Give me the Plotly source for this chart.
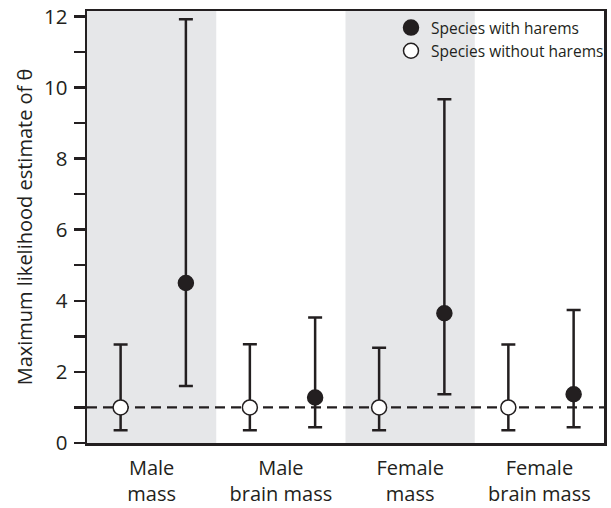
import plotly.graph_objects as go

categories = ["Male<br>mass", "Male<br>brain mass", "Female<br>mass", "Female<br>brain mass"]
with_est = [4.5, 1.28, 3.65, 1.37]
with_lo = [1.6, 0.44, 1.37, 0.44]
with_hi = [11.92, 3.53, 9.67, 3.74]
without_est = [1.0, 1.0, 1.0, 1.0]
without_lo = [0.36, 0.36, 0.36, 0.36]
without_hi = [2.77, 2.78, 2.68, 2.77]
shaded_groups = [0, 2]
null_theta = 1.0

ink = "#231f20"
band = "#e6e7e9"
font_family = "Open Sans, Noto Sans, sans-serif"

idx = list(range(len(categories)))
x_without = [i - 0.24 for i in idx]
x_with = [i + 0.265 for i in idx]

fig = go.Figure()

fig.add_trace(go.Scatter(
    x=x_with, y=with_est, mode="markers", name="Species with harems",
    marker=dict(symbol="circle", size=15, color=ink, line=dict(color=ink, width=1.5)),
    error_y=dict(type="data", symmetric=False,
                 array=[h - e for h, e in zip(with_hi, with_est)],
                 arrayminus=[e - l for e, l in zip(with_est, with_lo)],
                 color=ink, thickness=2.5, width=7),
    cliponaxis=False, hoverinfo="skip",
))
fig.add_trace(go.Scatter(
    x=x_without, y=without_est, mode="markers", name="Species without harems",
    marker=dict(symbol="circle", size=15, color="white", line=dict(color=ink, width=1.5)),
    error_y=dict(type="data", symmetric=False,
                 array=[h - e for h, e in zip(without_hi, without_est)],
                 arrayminus=[e - l for e, l in zip(without_est, without_lo)],
                 color=ink, thickness=2.5, width=7),
    cliponaxis=False, hoverinfo="skip",
))

shapes = []
for g in shaded_groups:
    shapes.append(dict(type="rect", xref="x", yref="paper", x0=g - 0.5, x1=g + 0.5,
                       y0=0, y1=1, fillcolor=band, line=dict(width=0), layer="below"))
shapes.append(dict(type="line", xref="paper", yref="y", x0=0, x1=1, y0=null_theta, y1=null_theta,
                   line=dict(color=ink, width=2.2, dash="10px,6px"), layer="below"))

fig.update_layout(
    width=611, height=508,
    margin=dict(l=87, r=2, t=11, b=65),
    paper_bgcolor="white", plot_bgcolor="white",
    font=dict(family=font_family, color=ink, size=18),
    shapes=shapes,
    hovermode=False,
    showlegend=True,
    legend=dict(x=0.588, y=1.0, xanchor="left", yanchor="top",
                bgcolor="rgba(0,0,0,0)", font=dict(size=15.5, family=font_family, color=ink),
                itemsizing="trace", tracegroupgap=0),
    xaxis=dict(range=[-0.5, 3.5], tickmode="array", tickvals=idx, ticktext=categories,
               showgrid=False, zeroline=False, showline=True, linecolor=ink, linewidth=2.5,
               mirror=True, ticks="", tickfont=dict(size=20), ticklabelstandoff=5,
               ticklabeloverflow="allow"),
    yaxis=dict(range=[0, 12.15], tickmode="array", tickvals=[0, 2, 4, 6, 8, 10, 12],
               showgrid=False, zeroline=False, showline=True, linecolor=ink, linewidth=2.5,
               mirror=True, ticks="outside", ticklen=11, tickwidth=2.5, tickcolor=ink,
               tickfont=dict(size=20.5), ticklabelstandoff=2, ticklabeloverflow="allow",
               minor=dict(tickvals=[1, 3, 5, 7, 9, 11], ticks="outside", ticklen=11,
                          tickwidth=2.5, tickcolor=ink),
               title=dict(text="Maximum likelihood estimate of θ", font=dict(size=20), standoff=6)),
)

fig.write_html("out.html", config={"displayModeBar": False, "staticPlot": True},
               post_script="document.body.style.margin='0';")
